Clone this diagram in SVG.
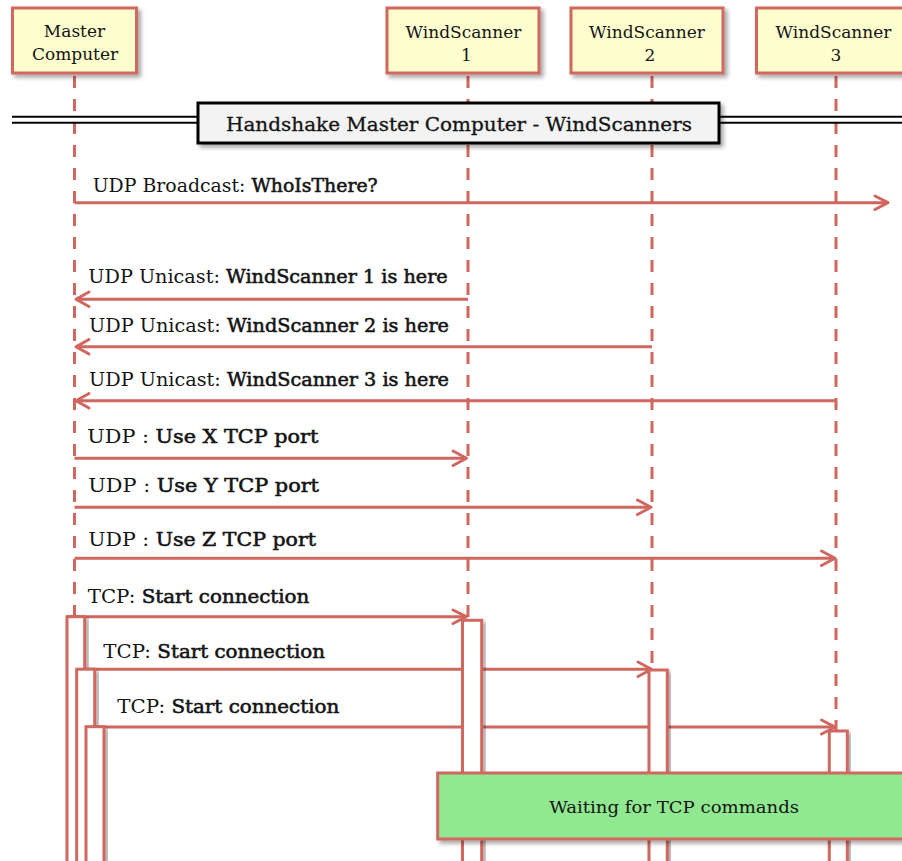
<svg xmlns="http://www.w3.org/2000/svg" width="902" height="861" viewBox="0 0 902 861">
  <style>
    text { font-family: "DejaVu Serif", "Liberation Serif", serif; fill: #141414; }
    .plabel { font-size: 17px; text-anchor: middle; }
    .msg { font-size: 18px; }
    .b { stroke: #141414; stroke-width: 0.55; }
    .participant rect { fill: #FEFECE; stroke: #D0675F; stroke-width: 3; }
    .lifeline { stroke: #D0675F; stroke-width: 3; stroke-dasharray: 12 11; fill: none; }
    .arrow { stroke: #D0675F; stroke-width: 3; fill: none; }
    .head { stroke: #D0675F; stroke-width: 3; fill: none; stroke-linecap: round; stroke-linejoin: round; }
    .act { fill: #FFFFFF; stroke: #D0675F; stroke-width: 3; }
    .sep { stroke: #000000; stroke-width: 2; }
  </style>
  <defs>
    <filter id="shadow" x="-20%" y="-20%" width="140%" height="140%">
      <feDropShadow dx="3" dy="3" stdDeviation="2" flood-color="#000000" flood-opacity="0.35"/>
    </filter>
  </defs>

  <rect width="902" height="861" fill="#FFFFFF"/>

  <!-- lifelines -->
  <g id="lifelines">
    <line class="lifeline" x1="74.5" y1="76" x2="74.5" y2="861"/>
    <line class="lifeline" x1="468" y1="76" x2="468" y2="861"/>
    <line class="lifeline" x1="652" y1="76" x2="652" y2="861"/>
    <line class="lifeline" x1="836" y1="76" x2="836" y2="861"/>
  </g>

  <!-- participants -->
  <g id="master" class="participant">
    <rect x="12.5" y="8" width="124" height="65" filter="url(#shadow)"/>
    <text class="plabel" x="74.5" y="36.5">Master</text>
    <text class="plabel" x="75" y="60">Computer</text>
  </g>
  <g id="ws1" class="participant">
    <rect x="387" y="8" width="152" height="65" filter="url(#shadow)"/>
    <text class="plabel" x="463.5" y="38">WindScanner</text>
    <text class="plabel" x="466.5" y="61">1</text>
  </g>
  <g id="ws2" class="participant">
    <rect x="571" y="8" width="152" height="65" filter="url(#shadow)"/>
    <text class="plabel" x="647" y="38">WindScanner</text>
    <text class="plabel" x="650" y="61">2</text>
  </g>
  <g id="ws3" class="participant">
    <rect x="756.5" y="8" width="152" height="65" filter="url(#shadow)"/>
    <text class="plabel" x="833.5" y="38">WindScanner</text>
    <text class="plabel" x="836" y="61">3</text>
  </g>

  <!-- separator -->
  <g id="separator">
    <line class="sep" x1="12" y1="116.7" x2="902" y2="116.7"/>
    <line class="sep" x1="12" y1="122.7" x2="902" y2="122.7"/>
    <rect x="198" y="103" width="521" height="40" fill="#F3F3F3" stroke="#000000" stroke-width="3" filter="url(#shadow)"/>
    <text x="226" y="131" font-size="18" stroke="#141414" stroke-width="0.3" textLength="466" lengthAdjust="spacingAndGlyphs">Handshake Master Computer - WindScanners</text>
  </g>

  <!-- messages -->
  <g id="connectors">
    <line class="arrow" x1="74.5" y1="202.7" x2="887" y2="202.7"/>
    <polyline class="head" points="875,196 888,202.7 875,209.5"/>
    <text class="msg" x="92.7" y="191.7" textLength="285" lengthAdjust="spacingAndGlyphs">UDP Broadcast: <tspan class="b">WhoIsThere?</tspan></text>

    <line class="arrow" x1="468" y1="299.3" x2="76" y2="299.3"/>
    <polyline class="head" points="89,292 76,299.3 89,306.5"/>
    <text class="msg" x="88.3" y="283.3" textLength="359.4" lengthAdjust="spacingAndGlyphs">UDP Unicast: <tspan class="b">WindScanner 1 is here</tspan></text>

    <line class="arrow" x1="652" y1="346.7" x2="76" y2="346.7"/>
    <polyline class="head" points="89,339.5 76,346.7 89,354"/>
    <text class="msg" x="89" y="331.7" textLength="360" lengthAdjust="spacingAndGlyphs">UDP Unicast: <tspan class="b">WindScanner 2 is here</tspan></text>

    <line class="arrow" x1="836" y1="400.7" x2="76" y2="400.7"/>
    <polyline class="head" points="89,393.5 76,400.7 89,408"/>
    <text class="msg" x="89" y="386" textLength="360" lengthAdjust="spacingAndGlyphs">UDP Unicast: <tspan class="b">WindScanner 3 is here</tspan></text>

    <line class="arrow" x1="74.5" y1="458.3" x2="466" y2="458.3"/>
    <polyline class="head" points="453,451 466.5,458.3 453,465.5"/>
    <text class="msg" x="87.3" y="442.7" textLength="231" lengthAdjust="spacingAndGlyphs">UDP : <tspan class="b">Use X TCP port</tspan></text>

    <line class="arrow" x1="74.5" y1="507.3" x2="650" y2="507.3"/>
    <polyline class="head" points="637.5,500 651,507.3 637.5,514.5"/>
    <text class="msg" x="88.3" y="491.7" textLength="230.7" lengthAdjust="spacingAndGlyphs">UDP : <tspan class="b">Use Y TCP port</tspan></text>

    <line class="arrow" x1="74.5" y1="558.3" x2="834" y2="558.3"/>
    <polyline class="head" points="821.5,551 835,558.3 821.5,565.5"/>
    <text class="msg" x="88.3" y="546" textLength="227.7" lengthAdjust="spacingAndGlyphs">UDP : <tspan class="b">Use Z TCP port</tspan></text>

    <line class="arrow" x1="67" y1="616.7" x2="465" y2="616.7"/>
    <polyline class="head" points="453,610 466.5,616.7 453,623.5"/>
    <text class="msg" x="87.7" y="602.7" textLength="221.6" lengthAdjust="spacingAndGlyphs">TCP: <tspan class="b">Start connection</tspan></text>

    <line class="arrow" x1="76.7" y1="669.2" x2="650" y2="669.2"/>
    <polyline class="head" points="638,662 651.5,669.2 638,676.5"/>
    <text class="msg" x="103.3" y="658.3" textLength="221.7" lengthAdjust="spacingAndGlyphs">TCP: <tspan class="b">Start connection</tspan></text>

    <line class="arrow" x1="86" y1="727" x2="834" y2="727"/>
    <polyline class="head" points="821.5,720 835,727 821.5,734"/>
    <text class="msg" x="117.3" y="713.3" textLength="222" lengthAdjust="spacingAndGlyphs">TCP: <tspan class="b">Start connection</tspan></text>
  </g>

  <!-- activation bars -->
  <g id="activations">
    <rect class="act" x="67" y="616.7" width="17.7" height="260" filter="url(#shadow)"/>
    <rect class="act" x="76.7" y="669.2" width="18" height="210" filter="url(#shadow)"/>
    <rect class="act" x="86" y="726.7" width="18" height="150" filter="url(#shadow)"/>
    <rect class="act" x="462.5" y="620.3" width="19.2" height="260" filter="url(#shadow)"/>
    <rect class="act" x="649" y="670" width="18.3" height="210" filter="url(#shadow)"/>
    <rect class="act" x="829.3" y="731" width="18" height="150" filter="url(#shadow)"/>
  </g>

  <!-- note -->
  <g id="note">
    <rect x="437.7" y="773" width="475" height="66" fill="#90E890" stroke="#D0675F" stroke-width="3" filter="url(#shadow)"/>
    <text x="549.3" y="813.3" font-size="17.5" textLength="249.7" lengthAdjust="spacingAndGlyphs">Waiting for TCP commands</text>
  </g>
</svg>
